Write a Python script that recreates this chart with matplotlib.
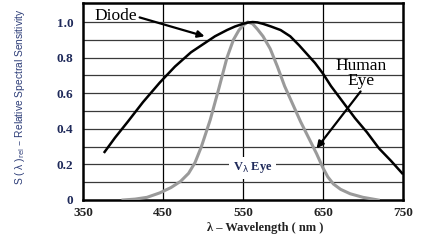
import numpy as np
import matplotlib.pyplot as plt

# diode response (black)
diode_wl = [377, 390, 406, 425, 446, 465, 485, 500, 515, 530, 540, 550, 556, 562, 568, 575, 585, 597, 609, 620, 630, 640, 650, 660, 670, 680, 690, 705, 720, 735, 749]
diode_val = [0.27, 0.35, 0.44, 0.55, 0.66, 0.75, 0.83, 0.875, 0.92, 0.955, 0.975, 0.99, 0.997, 1.0, 0.998, 0.99, 0.975, 0.955, 0.92, 0.87, 0.82, 0.77, 0.71, 0.64, 0.58, 0.52, 0.46, 0.38, 0.29, 0.22, 0.15]

# human eye V-lambda curve (gray)
eye_wl = [400, 415, 430, 446, 460, 472, 482, 490, 498, 509, 520, 530, 538, 545, 551, 556, 562, 568, 575, 584, 593, 602, 612, 622, 632, 642, 650, 656, 663, 672, 684, 700, 719]
eye_val = [0.0, 0.005, 0.015, 0.04, 0.07, 0.105, 0.15, 0.21, 0.30, 0.45, 0.63, 0.80, 0.90, 0.955, 0.985, 1.0, 0.99, 0.96, 0.92, 0.85, 0.75, 0.64, 0.54, 0.44, 0.35, 0.26, 0.18, 0.13, 0.09, 0.06, 0.035, 0.015, 0.0]

x_ticks = [350, 450, 550, 650, 750]
y_ticks = [0, 0.2, 0.4, 0.6, 0.8, 1.0]
y_tick_labels = ["0", "0.2", "0.4", "0.6", "0.8", "1.0"]

serif = "Liberation Serif"
navy = "#1f2a5a"

fig = plt.figure(figsize=(4.23, 2.46), dpi=100)
ax = fig.add_axes([83/423, 1 - 200/246, 320/423, 197/246])

# grid
for v in [450, 550, 650]:
    ax.axvline(v, color="black", lw=0.9, zorder=1)
for k in range(1, 11):
    ax.axhline(k/10, color="#3a3a3a", lw=0.9, zorder=1)

ax.plot(eye_wl, eye_val, color="#9a9a9a", lw=2.2, zorder=3)
ax.plot(diode_wl, diode_val, color="black", lw=1.8, zorder=4)

ax.set_xlim(350, 750)
ax.set_ylim(0, 1.107)
ax.set_xticks(x_ticks)
ax.set_yticks(y_ticks)
ax.set_xticklabels([str(t) for t in x_ticks], fontfamily=serif, fontweight="bold", fontsize=9.5, color="#222")
ax.set_yticklabels(y_tick_labels, fontfamily=serif, fontweight="bold", fontsize=9.5, color=navy)
ax.tick_params(axis="x", length=0, pad=5)
ax.tick_params(axis="y", length=0, pad=7)
for s in ax.spines.values():
    s.set_linewidth(1.8)
    s.set_color("black")

ax.annotate("Diode", xy=(502, 0.92), xytext=(364, 1.035), fontfamily=serif, fontsize=12.5,
            va="center", ha="left", zorder=6,
            arrowprops=dict(arrowstyle="-|>", color="black", lw=1.6, mutation_scale=10, shrinkA=0, shrinkB=0,
                            relpos=(1.0, 0.45)))
ax.text(697, 0.71, "Human\nEye", fontfamily=serif, fontsize=12.5, ha="center", va="center",
        linespacing=0.95, zorder=6)
ax.annotate("", xy=(642, 0.29), xytext=(697, 0.61),
            arrowprops=dict(arrowstyle="-|>", color="black", lw=1.6, mutation_scale=10, shrinkA=0, shrinkB=0))
ax.text(562, 0.18, r"V$_{\rm λ}$ Eye", fontfamily=serif, fontweight="bold", fontsize=9, color=navy,
        ha="center", va="center", zorder=5,
        bbox=dict(facecolor="white", edgecolor="none", pad=2.5))

fig.text(265/423, 1 - 228/246, "λ – Wavelength ( nm )", fontfamily=serif, fontweight="bold",
         fontsize=9, ha="center", va="center", color="#222")
fig.text(20/423, 1 - 97/246, r"S ( λ )$_{\rm rel}$ – Relative Spectral Sensitivity",
         fontfamily="Liberation Sans", fontsize=7.4, rotation=90, ha="center", va="center", color="#2d3d78")

fig.savefig("out.png", dpi=100)
